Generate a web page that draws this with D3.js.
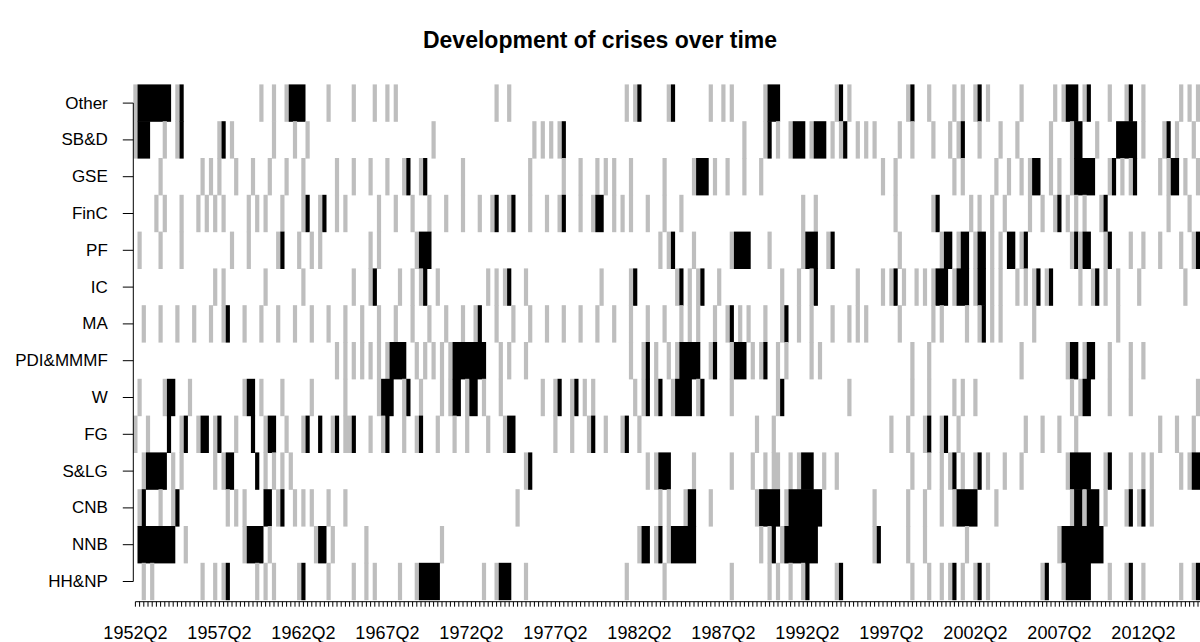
<!DOCTYPE html>
<html><head><meta charset="utf-8">
<script src="https://cdn.jsdelivr.net/npm/d3@7"></script>
<style>
body{margin:0;background:#fff}
svg{display:block}
text{font-family:"Liberation Sans",Arial,Helvetica,sans-serif;fill:#000}
</style>
</head><body>
<svg id="c" width="1200" height="642"></svg>
<script>
// ---------------- data ----------------
const title = "Development of crises over time";
const categories = ["Other","SB&D","GSE","FinC","PF","IC","MA","PDI&MMMF","W","FG","S&LG","CNB","NNB","HH&NP"];
const firstYear = 1952, firstQuarter = 2, quarterCount = 254;
const tickLabels = ["1952Q2","1957Q2","1962Q2","1967Q2","1972Q2","1977Q2","1982Q2","1987Q2","1992Q2","1997Q2","2002Q2","2007Q2","2012Q2"];
// quarter indices (0 = 1952Q2) in grey (level 1) and black (level 2)
const otherGray = [0,10,30,33,36,46,52,57,60,62,86,89,117,119,127,137,140,142,150,167,170,184,189,195,197,200,203,211,219,221,226,232,236,240,249,251,253];
const otherBlack = [1,2,3,4,5,6,7,8,11,37,38,39,40,120,128,151,152,153,168,185,201,222,223,224,227,237];
const sbdGray = [0,7,10,20,23,33,38,41,71,95,97,99,101,145,150,153,156,161,166,168,172,174,176,182,185,190,194,196,201,206,210,218,223,229,240,245,248,252];
const sbdBlack = [1,2,3,11,21,102,151,157,158,159,162,163,164,169,197,224,225,234,235,236,237,238,246];
const gseGray = [6,16,18,20,24,28,32,36,40,48,52,56,60,64,68,78,94,102,106,110,112,114,118,126,133,138,141,145,149,178,181,195,197,205,208,211,213,218,220,223,232,235,237,244,246,250,253];
const gseBlack = [65,69,134,135,136,214,215,224,225,226,227,228,233,238,247,248];
const fincGray = [5,7,11,15,17,19,21,27,29,31,35,40,44,48,50,58,62,66,70,74,78,82,85,89,94,98,101,106,109,114,116,118,122,126,130,159,162,181,190,199,201,204,207,213,216,219,222,224,226,230,246,251];
const fincBlack = [41,45,86,90,102,110,111,191,220,231];
const pfGray = [1,6,11,23,27,34,39,42,44,56,58,67,125,127,133,142,151,159,165,182,192,196,200,204,206,211,223,225,231,237,240,244,249,252];
const pfBlack = [35,68,69,70,128,143,144,145,146,160,161,162,166,193,194,197,198,201,202,208,209,212,224,226,227,232,253];
const icGray = [19,21,31,40,52,56,63,66,68,72,84,86,88,93,111,118,129,132,134,139,154,158,161,172,178,180,183,186,188,190,195,200,204,206,210,212,214,217,225,228,231,234,239,250];
const icBlack = [57,69,89,119,130,135,162,181,191,192,193,196,197,198,201,202,215,218,229];
const maGray = [2,6,10,14,18,21,26,30,34,38,42,46,50,54,58,62,66,70,74,78,81,86,90,94,98,102,106,110,114,118,122,126,130,132,134,138,141,144,146,150,154,158,161,166,170,172,174,182,190,192,198,201,204,206,214,234];
const maBlack = [22,82,142,155,202];
const pdiGray = [48,50,52,54,56,58,60,67,69,71,73,75,87,89,93,118,121,124,127,129,137,142,147,149,153,155,161,163,185,189,211,222,226,232,237,240];
const pdiBlack = [61,62,63,64,76,77,78,79,80,81,82,83,122,130,131,132,133,134,138,143,144,145,150,223,224,227,228];
const wGray = [1,7,13,26,30,35,42,50,58,64,68,73,75,79,83,87,97,100,104,107,109,119,121,124,128,134,142,153,170,185,189,195,197,200,223,225,232,237,253];
const wBlack = [8,9,27,28,59,60,61,65,76,77,80,81,101,105,122,125,129,130,131,132,135,154,226,227];
const fgGray = [0,3,11,15,19,24,31,36,40,47,50,51,56,59,64,67,72,76,79,84,88,100,104,108,112,116,120,148,152,180,184,188,192,196,212,216,220,224,244,248,252];
const fgBlack = [8,12,16,17,20,28,32,33,41,44,48,52,60,68,89,90,109,117,189,193];
const slgGray = [2,9,11,19,21,31,33,35,37,93,122,124,133,142,147,150,152,153,156,158,164,167,185,189,192,194,197,200,203,207,211,222,231,237,240,242,249,251];
const slgBlack = [3,4,5,6,7,22,23,29,94,125,126,127,159,160,161,195,201,223,224,225,226,227,232,252,253];
const cnbGray = [1,6,9,22,24,26,34,38,40,42,46,50,91,125,127,131,137,148,155,176,184,188,192,195,205,223,226,231,236,239,242];
const cnbBlack = [2,10,31,32,35,132,133,149,150,151,152,153,156,157,158,159,160,161,162,163,196,197,198,199,200,224,225,227,228,229,237,240];
const nnbGray = [12,26,32,43,47,55,73,120,124,127,149,151,154,176,184,188,198,220];
const nnbBlack = [1,2,3,4,5,6,7,8,9,27,28,29,30,44,45,121,122,125,128,129,130,131,132,133,152,155,156,157,158,159,160,161,162,177,221,222,223,224,225,226,227,228,229,230];
const hhGray = [2,4,16,19,21,29,31,33,39,46,52,55,57,63,67,83,86,93,117,126,142,151,153,156,159,167,185,189,192,194,197,200,203,216,221,232,236,240,249,252];
const hhBlack = [22,40,68,69,70,71,72,87,88,89,160,168,195,201,217,222,223,224,225,226,227,237,253];

const rowGray = [otherGray,sbdGray,gseGray,fincGray,pfGray,icGray,maGray,pdiGray,wGray,fgGray,slgGray,cnbGray,nnbGray,hhGray];
const rowBlack = [otherBlack,sbdBlack,gseBlack,fincBlack,pfBlack,icBlack,maBlack,pdiBlack,wBlack,fgBlack,slgBlack,cnbBlack,nnbBlack,hhBlack];
const levelColors = ["#ffffff","#bebebe","#000000"];

(function () {
// ---------------- build ----------------
const quarters = [];
for (let i = 0; i < quarterCount; i++) {
  const k = firstQuarter - 1 + i;
  quarters.push((firstYear + Math.floor(k / 4)) + "Q" + (k % 4 + 1));
}
const runs = [];
categories.forEach((cat, r) => {
  const lv = new Array(quarterCount).fill(0);
  rowGray[r].forEach(i => lv[i] = 1);
  rowBlack[r].forEach(i => lv[i] = 2);
  let s = 0;
  for (let i = 1; i <= quarterCount; i++) {
    if (i === quarterCount || lv[i] !== lv[s]) {
      if (lv[s] > 0) runs.push({cat, from: quarters[s], to: quarters[i - 1], level: lv[s]});
      s = i;
    }
  }
});

const svg = d3.select("#c");
const pL = 133.3, pR = 1200.1, pT = 84.7, pB = 599.9;
const x = d3.scaleBand().domain(quarters).range([pL, pR]).paddingInner(0).paddingOuter(0);
const y = d3.scaleBand().domain(categories).range([pT, pB]).paddingInner(0).paddingOuter(0);

svg.append("g").selectAll("rect").data(runs).join("rect")
  .attr("x", d => x(d.from))
  .attr("width", d => x(d.to) + x.bandwidth() - x(d.from))
  .attr("y", d => y(d.cat) - 0.3)
  .attr("height", y.bandwidth() + 0.6)
  .attr("fill", d => levelColors[d.level]);

svg.append("text").attr("x", 600).attr("y", 48).attr("text-anchor", "middle")
  .style("font-weight", "bold").style("font-size", "23px").text(title);

const yAxis = d3.axisLeft(y).tickSize(10.5).tickPadding(15).tickSizeOuter(0);
const gy = svg.append("g").attr("transform", `translate(${pL},0)`).call(yAxis);
gy.select(".domain").remove();
gy.append("line").attr("x1", 0).attr("x2", 0)
  .attr("y1", y(categories[0]) + y.bandwidth() / 2)
  .attr("y2", y(categories[categories.length - 1]) + y.bandwidth() / 2)
  .attr("stroke", "#000");
gy.selectAll(".tick line").attr("stroke", "#000");
gy.selectAll(".tick text").style("font-size", "17px").attr("fill", "#000");

const xAxis = d3.axisBottom(x).tickValues(quarters).tickSize(5).tickPadding(20).tickSizeOuter(0)
  .tickFormat(q => tickLabels.includes(q) ? q : "");
const gx = svg.append("g").attr("transform", `translate(0,${pB + 1.8})`).call(xAxis);
gx.select(".domain").remove();
gx.append("line")
  .attr("x1", x(quarters[0]) + x.bandwidth() / 2)
  .attr("x2", 1200)
  .attr("stroke", "#000");
gx.selectAll(".tick line").attr("stroke", "#000");
gx.selectAll(".tick text").style("font-size", "18px").attr("fill", "#000");
})();
</script>
</body></html>
